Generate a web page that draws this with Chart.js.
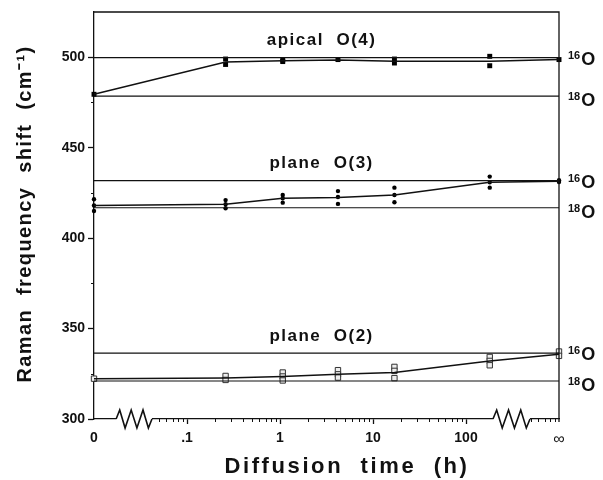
<!DOCTYPE html>
<html><head><meta charset="utf-8">
<script src="https://cdn.jsdelivr.net/npm/chart.js@4/dist/chart.umd.min.js"></script>
<style>html,body{margin:0;padding:0;background:#fff}#wrap{width:603px;height:480px;position:relative}</style>
</head><body><div id="wrap"><canvas id="c"></canvas></div>
<script>
// ---- data ----
const xTickValues = [0.01, 0.1, 1, 10, 100, 1000];
const xTickLabels = ['0', '.1', '1', '10', '100', '\u221E'];
const yTickValues = [300, 350, 400, 450, 500];
const yMinorTicks = [325, 375, 425, 475];
const times = [0.01, 0.26, 1.07, 4.2, 17, 180, 1000];

const apicalMean = [479.5, 497.3, 498, 498.5, 497.8, 497.8, 498.7];
const apicalPoints = [[0.01,479.5],[0.26,499],[0.26,496],[1.07,498.5],[1.07,497.6],[4.2,498.7],[17,499],[17,496.8],[180,500.5],[180,495.3],[1000,498.7]];
const o3Mean = [418, 418.7, 422, 422.5, 423.8, 430.9, 431.5];
const o3Points = [[0.01,421.5],[0.01,418],[0.01,415],[0.26,421],[0.26,418.7],[0.26,416.5],[1.07,423.8],[1.07,422],[1.07,419.6],[4.2,426],[4.2,422.7],[4.2,418.9],[17,427.9],[17,423.8],[17,419.8],[180,434],[180,430.9],[180,427.9],[1000,432],[1000,431]];
const o2Mean = [322.3, 322.7, 323.5, 324.8, 325.7, 332, 335.8];
const o2Points = [[0.01,322.3],[0.26,323.8],[0.26,321.6],[1.07,325.7],[1.07,323.5],[1.07,321.3],[4.2,327],[4.2,324.7],[4.2,322.9],[17,328.8],[17,326.6],[17,322.6],[180,334.3],[180,332.1],[180,329.7],[1000,337.3],[1000,334.9]];
// 16O and 18O reference levels
const apicalLevels = [499.8, 478.5];
const o3Levels = [431.8, 416.8];
const o2Levels = [336.4, 321];
const groupTitles = ['apical  O(4)', 'plane  O(3)', 'plane  O(2)'];
const isotopeSup = ['16', '18'];
// axis breaks (value ranges replaced by zig-zags)
const axisBreaks = [[0.0173, 0.042], [195, 488]];

// ---- layout / style ----
const titlePos = [[2.8, 509.5], [2.8, 441.5], [2.8, 345.9]];
const FONT = "'Liberation Sans', Arial, Helvetica, sans-serif";
const INK = '#111';

const pts = arr => arr.map(p => ({x: p[0], y: p[1]}));
const meanLine = arr => times.map((t, i) => ({x: t, y: arr[i]}));
const level = v => [{x: xTickValues[0], y: v}, {x: xTickValues[xTickValues.length - 1], y: v}];

const datasets = [];
[apicalLevels, o3Levels, o2Levels].forEach(lv => lv.forEach(v => datasets.push({
  type: 'line', data: level(v), borderColor: INK, borderWidth: 1.1, pointRadius: 0, showLine: true, clip: false
})));
[apicalMean, o3Mean, o2Mean].forEach(m => datasets.push({
  type: 'line', data: meanLine(m), borderColor: INK, borderWidth: 1.5, pointRadius: 0, showLine: true, clip: false
}));
datasets.push({data: pts(apicalPoints), pointStyle: 'rect', pointRadius: 3.5, backgroundColor: '#000', borderColor: '#000', borderWidth: 0, clip: false});
datasets.push({data: pts(o3Points), pointStyle: 'circle', pointRadius: 2.2, backgroundColor: '#000', borderColor: '#000', borderWidth: 0, clip: false});
datasets.push({data: pts(o2Points), pointStyle: 'rect', pointRadius: 3.8, backgroundColor: '#eee', borderColor: '#333', borderWidth: 1, clip: false});
datasets.push({data: pts(o2Points), pointStyle: 'circle', pointRadius: 1.2, backgroundColor: '#222', borderWidth: 0, clip: false});

const decor = {
  id: 'decor',
  afterDraw(chart) {
    const {ctx, chartArea: a, scales: {x, y}} = chart;
    ctx.save();
    ctx.strokeStyle = INK; ctx.lineWidth = 1.3;
    // top and right frame
    ctx.beginPath();
    ctx.moveTo(a.left, a.top); ctx.lineTo(a.right, a.top); ctx.lineTo(a.right, a.bottom + 3);
    ctx.stroke();
    // x minor ticks
    ctx.lineWidth = 1;
    const minors = [];
    for (let e = -2; e <= 2; e++) for (let m = 2; m <= 9; m++) minors.push(m * Math.pow(10, e));
    minors.forEach(v => {
      if (v < axisBreaks[0][1] || (v > axisBreaks[1][0] && v < axisBreaks[1][1])) return;
      const px = Math.round(x.getPixelForValue(v)) + 0.5;
      ctx.beginPath(); ctx.moveTo(px, a.bottom); ctx.lineTo(px, a.bottom + 3); ctx.stroke();
    });
    yMinorTicks.forEach(v => {
      const py = Math.round(y.getPixelForValue(v)) + 0.5;
      ctx.beginPath(); ctx.moveTo(a.left - 3, py); ctx.lineTo(a.left, py); ctx.stroke();
    });
    // axis breaks (zig-zags)
    const zz = [[0,0],[0.1,-1],[0.25,1],[0.42,-1],[0.58,1],[0.75,-1],[0.9,1],[1,0]];
    axisBreaks.forEach(([v0, v1]) => {
      const p0 = x.getPixelForValue(v0), p1 = x.getPixelForValue(v1);
      ctx.fillStyle = '#fff';
      ctx.fillRect(p0, a.bottom - 2, p1 - p0, 5);
      ctx.strokeStyle = INK; ctx.lineWidth = 1.6; ctx.lineJoin = 'miter';
      ctx.beginPath();
      zz.forEach(([f, d], i) => {
        const px = p0 + f * (p1 - p0), py = a.bottom + d * 9;
        i ? ctx.lineTo(px, py) : ctx.moveTo(px, py);
      });
      ctx.stroke();
    });
    // group titles
    ctx.fillStyle = INK;
    ctx.textAlign = 'center'; ctx.textBaseline = 'middle';
    ctx.font = `bold 17px ${FONT}`;
    ctx.letterSpacing = '1.5px';
    groupTitles.forEach((t, i) => {
      ctx.fillText(t, x.getPixelForValue(titlePos[i][0]), y.getPixelForValue(titlePos[i][1]));
    });
    // isotope labels on the right
    ctx.textAlign = 'left'; ctx.letterSpacing = '0px';
    [apicalLevels, o3Levels, o2Levels].forEach(lv => lv.forEach((v, j) => {
      const py = y.getPixelForValue(v) + (j === 0 ? 1 : 4);
      const px = a.right + 9;
      ctx.font = `bold 11px ${FONT}`;
      ctx.textBaseline = 'alphabetic';
      ctx.fillText(isotopeSup[j], px, py);
      const w = ctx.measureText(isotopeSup[j]).width;
      ctx.font = `bold 18px ${FONT}`;
      ctx.textBaseline = 'middle';
      ctx.fillText('O', px + w + 1, py + 1);
    }));
    // axis titles
    ctx.font = `bold 22px ${FONT}`;
    ctx.letterSpacing = '2.6px';
    ctx.textAlign = 'center'; ctx.textBaseline = 'middle';
    ctx.fillText('Diffusion  time  (h)', 347, 467);
    ctx.save();
    ctx.translate(25, 214);
    ctx.rotate(-Math.PI / 2);
    ctx.font = `bold 20px ${FONT}`;
    ctx.letterSpacing = '1.4px';
    ctx.fillText('Raman  frequency  shift  (cm\u207B\u00B9)', 0, 0);
    ctx.restore();
    ctx.restore();
  }
};

new Chart(document.getElementById('c'), {
  type: 'scatter',
  data: {datasets},
  options: {
    responsive: true, maintainAspectRatio: false, animation: false,
    layout: {padding: {left: 0, right: 44, top: 12, bottom: 0}},
    plugins: {legend: {display: false}, tooltip: {enabled: false}},
    scales: {
      x: {
        type: 'logarithmic', min: 0.01, max: 1000,
        afterFit(s) { s.height = 61; },
        afterBuildTicks(s) { s.ticks = xTickValues.map(v => ({value: v})); },
        grid: {drawOnChartArea: false, drawTicks: true, tickLength: 5, tickWidth: 1.3,
          tickColor: c => (c.index === 0 || c.index === xTickValues.length - 1) ? 'rgba(0,0,0,0)' : INK},
        border: {display: true, color: INK, width: 1.3},
        ticks: {
          autoSkip: false, maxRotation: 0, padding: 6, color: INK,
          font: c => (c.index === xTickValues.length - 1) ? {family: FONT, size: 16, weight: 'normal'} : {family: FONT, size: 14, weight: 'bold'},
          callback: (v, i) => xTickLabels[i]
        }
      },
      y: {
        min: 300, max: 525,
        afterFit(s) { s.width = 94; },
        afterBuildTicks(s) { s.ticks = yTickValues.map(v => ({value: v})); },
        grid: {drawOnChartArea: false, drawTicks: true, tickLength: 6, tickWidth: 1.3, tickColor: INK},
        border: {display: true, color: INK, width: 1.3},
        ticks: {padding: 3, color: INK, font: {family: FONT, size: 14, weight: 'bold'}, callback: v => String(v)}
      }
    }
  },
  plugins: [decor]
});
</script>
</body></html>
